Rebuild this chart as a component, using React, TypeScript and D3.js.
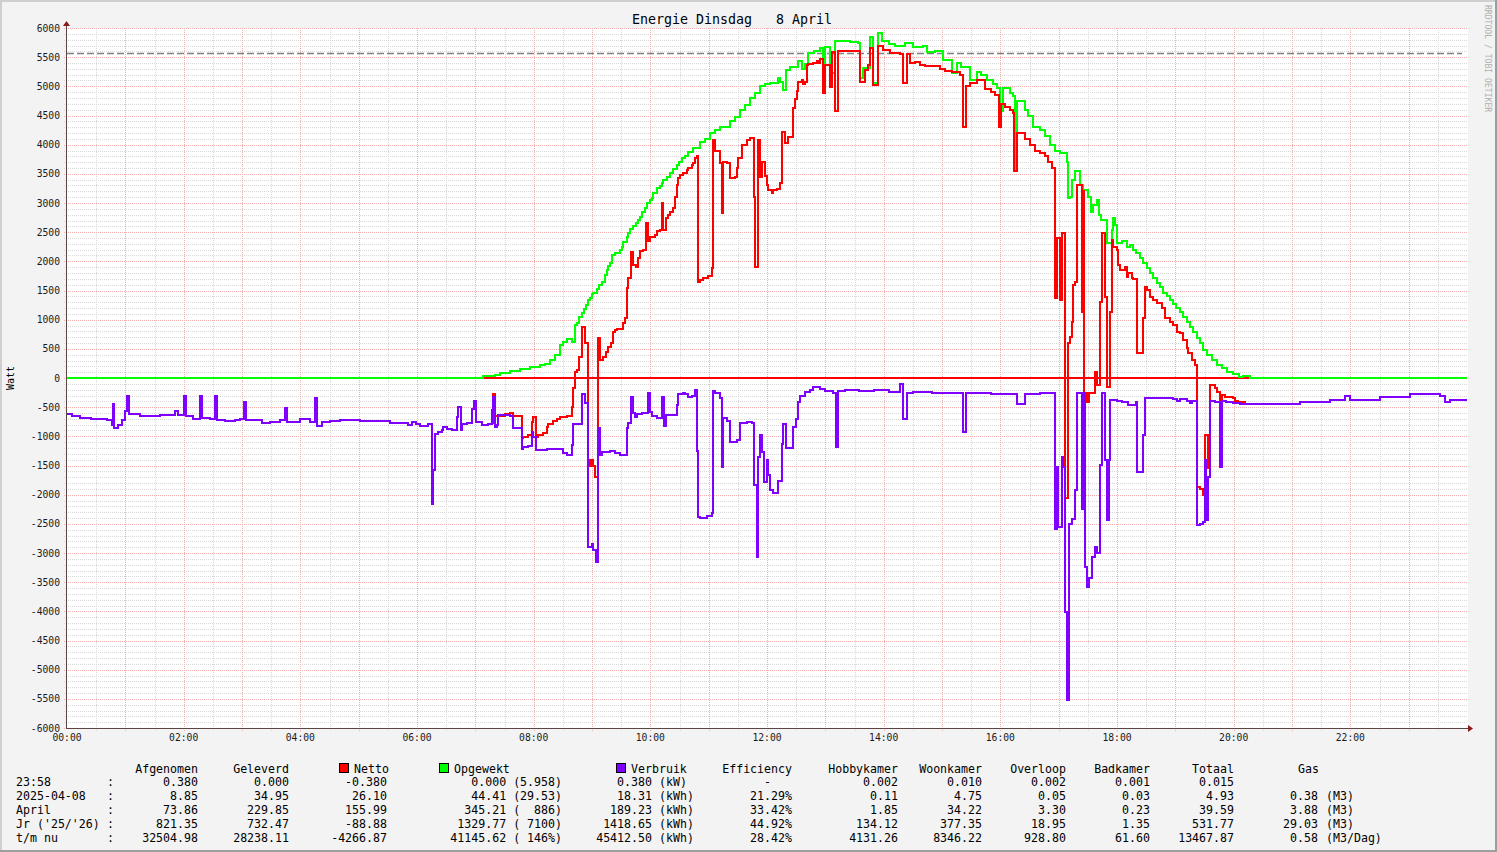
import React from 'react';
import * as d3 from 'd3';

// ---------- DATA (time in minutes since 00:00, value in Watt) ----------
const opgewekt: [number, number][] = [
  [0, 0], [428, 30], [440, 50], [445, 80], [456, 120], [466, 160], [476, 190], [487, 220], [492, 240],
  [497, 310], [502, 390], [507, 560], [510, 623], [514, 663], [519, 623], [523, 909], [525, 937],
  [527, 1051], [530, 1109], [532, 1177], [534, 1251], [536, 1337], [538, 1366], [540, 1440], [541, 1450],
  [545, 1520], [547, 1594], [550, 1651], [553, 1766], [555, 1851], [556, 1920], [559, 1966], [561, 2109],
  [564, 2137], [569, 2194], [571, 2251], [572, 2337], [576, 2411], [577, 2480], [579, 2549], [582, 2606],
  [585, 2663], [587, 2709], [589, 2766], [591, 2851], [595, 2909], [597, 2994], [600, 3051], [602, 3094],
  [603, 3166], [607, 3251], [610, 3294], [612, 3337], [613, 3394], [617, 3451], [620, 3520], [623, 3577],
  [627, 3651], [629, 3709], [633, 3766], [636, 3806], [639, 3880], [644, 3940], [651, 4050], [656, 4100],
  [661, 4200], [667, 4250], [672, 4300], [682, 4400], [687, 4480], [692, 4600], [697, 4680], [703, 4800],
  [708, 4880], [713, 5000], [718, 5040], [723, 5050], [731, 5150], [733, 5080], [736, 4940], [740, 5280],
  [744, 5340], [749, 5340], [752, 5440], [756, 5300], [759, 5380], [762, 5570], [768, 5600], [775, 5660],
  [778, 5230], [780, 5680], [785, 5230], [790, 5770], [805, 5760], [814, 5750], [816, 5140], [819, 5310],
  [826, 5850], [829, 5060], [834, 5920], [838, 5780], [845, 5720], [852, 5690], [857, 5700], [862, 5750],
  [870, 5680], [880, 5690], [885, 5590], [893, 5600], [901, 5450], [910, 5230], [915, 5400], [920, 5330],
  [929, 5110], [936, 5250], [940, 5200], [946, 5110], [952, 5040], [957, 4970], [960, 4570], [963, 4970],
  [970, 4880], [973, 4830], [975, 3580], [977, 4740], [985, 4600], [988, 4490], [994, 4300], [1001, 4250],
  [1006, 4150], [1011, 4000], [1016, 3900], [1021, 3860], [1029, 3710], [1030, 3080], [1032, 3110],
  [1034, 3400], [1037, 3540], [1042, 3310], [1045, 3220], [1050, 3110], [1053, 2850], [1055, 2970],
  [1059, 3050], [1061, 2790], [1064, 2710], [1070, 2310], [1075, 2540], [1076, 2740], [1078, 2620],
  [1080, 2310], [1085, 2350], [1090, 2250], [1093, 2280], [1096, 2190], [1100, 2140], [1104, 2060],
  [1107, 1970], [1111, 1880], [1114, 1800], [1117, 1710], [1121, 1630], [1124, 1565], [1127, 1460],
  [1131, 1400], [1135, 1340], [1138, 1270], [1141, 1195], [1145, 1140], [1148, 1050], [1152, 965],
  [1155, 880], [1158, 795], [1162, 685], [1165, 595], [1168, 480], [1173, 395], [1178, 310], [1183, 220],
  [1188, 165], [1193, 110], [1199, 70], [1205, 25], [1210, 35], [1217, 0], [1440, 0],
];

const netto: [number, number][] = [
  [427, -805], [433, -790], [437, -777], [438, -280], [440, -650], [450, -620], [456, -606], [459, -650],
  [466, -660], [468, -1034], [469, -1006], [474, -977], [478, -749], [479, -663], [482, -1006], [484, -977],
  [490, -937], [494, -846], [495, -789], [500, -731], [504, -703], [507, -663], [514, -646], [519, -491],
  [520, -177], [523, 110], [525, 137], [527, 366], [530, 880], [533, 594], [536, -1406], [538, -1509],
  [540, -1406], [541, -1509], [543, -1691], [546, 680], [548, 309], [551, 366], [554, 451], [556, 537],
  [560, 606], [562, 795], [564, 823], [566, 834], [572, 937], [574, 1023], [576, 1537], [577, 1709],
  [580, 2166], [582, 1937], [585, 1909], [587, 2051], [589, 2180], [592, 2194], [596, 2651], [598, 2343],
  [600, 2412], [605, 2451], [607, 2514], [610, 2543], [612, 2994], [613, 2543], [616, 2737], [618, 2794],
  [620, 2851], [623, 2909], [625, 3109], [627, 3309], [628, 3423], [631, 3480], [634, 3520], [638, 3560],
  [639, 3595], [643, 3651], [644, 3680], [646, 3766], [648, 3800], [649, 1651], [651, 1680], [654, 1720],
  [656, 1709], [659, 1749], [663, 1880], [664, 4080], [667, 3900], [672, 3680], [674, 2823], [675, 3710],
  [679, 3680], [682, 3423], [687, 3440], [689, 3595], [690, 3766], [694, 4000], [699, 4080], [703, 4120],
  [707, 3109], [708, 1909], [711, 4080], [713, 3451], [715, 3710], [718, 3466], [720, 3309], [721, 3223],
  [725, 3177], [726, 3223], [730, 3235], [733, 3337], [735, 4222], [739, 4023], [742, 4137], [747, 4623],
  [749, 4777], [751, 4926], [752, 5080], [756, 5100], [757, 5040], [759, 5080], [761, 5366], [762, 5383],
  [767, 5394], [771, 5440], [772, 5394], [775, 5463], [778, 4880], [780, 5366], [785, 4994], [787, 5590],
  [790, 4580], [793, 5611], [814, 5600], [816, 5080], [821, 5280], [824, 5366], [826, 5650], [829, 5030],
  [834, 5700], [839, 5620], [847, 5580], [857, 5550], [860, 5060], [864, 5550], [867, 5400], [872, 5420],
  [877, 5370], [883, 5350], [898, 5300], [903, 5270], [910, 5250], [918, 5200], [922, 4300], [925, 5000],
  [929, 5050], [936, 5100], [944, 4950], [950, 4900], [955, 4850], [959, 4300], [961, 4700], [965, 4650],
  [970, 4600], [973, 4550], [974, 3550], [977, 4200], [985, 4100], [991, 4000], [996, 3900], [1001, 3850],
  [1006, 3800], [1009, 3700], [1013, 3600], [1016, 1366], [1018, 2394], [1021, 1337], [1023, 2480],
  [1026, -234], [1027, -2063], [1030, 594], [1032, 709], [1034, 966], [1035, 1594], [1037, 1651],
  [1039, 3300], [1044, 1137], [1045, 3200], [1046, -263], [1049, -406], [1051, -263], [1057, 109],
  [1059, -120], [1062, 1309], [1065, 2480], [1068, 1394], [1070, -149], [1073, 1137], [1075, 2366],
  [1076, 2251], [1080, 2194], [1081, 1937], [1083, 1851], [1088, 1900], [1090, 1737], [1091, 1794],
  [1095, 1709], [1096, 1700], [1101, 423], [1107, 1023], [1109, 1554], [1111, 1509], [1114, 1394],
  [1117, 1337], [1121, 1280], [1126, 1194], [1129, 1023], [1135, 966], [1138, 909], [1142, 794],
  [1145, 766], [1148, 651], [1152, 509], [1153, 423], [1157, 309], [1160, 223], [1162, -1863],
  [1165, -1909], [1168, -2006], [1170, -977], [1174, -1549], [1176, -120], [1181, -170], [1183, -234],
  [1186, -1291], [1188, -291], [1191, -320], [1199, -349], [1201, -400], [1204, -420], [1212, -450],
];

const verbruik: [number, number][] = [
  [0, -620], [5, -660], [13, -690], [25, -700], [41, -720], [46, -800], [47, -450], [48, -850], [52, -800],
  [57, -720], [60, -560], [62, -300], [64, -620], [75, -650], [85, -660], [96, -640], [106, -640],
  [111, -560], [114, -640], [120, -300], [122, -650], [130, -700], [137, -300], [139, -680], [147, -700],
  [152, -300], [154, -720], [163, -740], [173, -720], [178, -700], [182, -420], [184, -720], [193, -720],
  [201, -780], [209, -760], [219, -720], [224, -520], [226, -760], [240, -700], [250, -760], [255, -350],
  [257, -820], [262, -760], [271, -740], [281, -720], [301, -730], [317, -730], [332, -780], [351, -805],
  [355, -760], [359, -790], [363, -820], [371, -795], [375, -2165], [376, -1577], [379, -960], [382, -920],
  [386, -900], [387, -845], [391, -870], [396, -890], [401, -670], [402, -500], [405, -890], [406, -790],
  [411, -765], [417, -540], [419, -400], [421, -750], [427, -805], [433, -790], [437, -550], [438, -330],
  [440, -840], [442, -805], [443, -635], [456, -660], [459, -850], [468, -1220], [469, -1190], [474, -1170],
  [478, -920], [479, -1005], [482, -1235], [494, -1225], [510, -1290], [514, -1320], [519, -1150],
  [520, -790], [530, -275], [533, -435], [536, -2890], [540, -2850], [541, -2950], [544, -3150],
  [546, -850], [548, -1320], [550, -1263], [559, -1250], [564, -1290], [569, -1320], [576, -860],
  [577, -777], [580, -330], [582, -606], [584, -663], [586, -623], [591, -606], [598, -250], [600, -577],
  [602, -646], [607, -680], [612, -320], [614, -823], [616, -634], [627, -463], [628, -274], [634, -250],
  [636, -275], [639, -330], [643, -300], [646, -206], [648, -1250], [649, -2378], [651, -2395],
  [658, -2370], [663, -2320], [664, -217], [667, -260], [672, -350], [674, -1530], [675, -680],
  [679, -737], [682, -1103], [689, -1063], [692, -777], [699, -750], [705, -777], [707, -1834],
  [710, -3063], [711, -1354], [713, -977], [715, -1263], [717, -1790], [720, -1406], [721, -1663],
  [723, -1920], [726, -1977], [731, -1766], [735, -1137], [736, -794], [740, -1206], [747, -846],
  [750, -709], [752, -406], [754, -309], [759, -234], [764, -206], [767, -160], [775, -190], [780, -220],
  [788, -250], [791, -1180], [793, -220], [800, -200], [815, -230], [830, -200], [845, -240], [857, -100],
  [860, -700], [864, -260], [870, -240], [890, -260], [910, -250], [922, -930], [925, -260], [950, -270],
  [977, -450], [985, -280], [1001, -263], [1016, -2594], [1018, -1520], [1019, -2550], [1023, -1360],
  [1024, -1520], [1026, -4006], [1029, -5520], [1031, -2497], [1034, -2423], [1037, -1920], [1039, -252],
  [1044, -2245], [1045, -263], [1047, -3234], [1049, -3577], [1051, -3430], [1054, -3063], [1057, -2891],
  [1059, -3000], [1062, -1491], [1065, -260], [1068, -1406], [1070, -2434], [1072, -1406], [1073, -380],
  [1080, -400], [1085, -420], [1091, -460], [1100, -420], [1101, -1606], [1104, -1606], [1107, -977],
  [1109, -349], [1121, -337], [1127, -349], [1138, -360], [1142, -389], [1145, -360], [1152, -400],
  [1155, -428], [1157, -400], [1162, -2520], [1165, -2500], [1168, -2470], [1170, -1406], [1172, -2430],
  [1174, -1700], [1176, -400], [1181, -410], [1186, -1520], [1188, -400], [1192, -420], [1199, -430],
  [1207, -440], [1217, -450], [1227, -450], [1268, -420], [1299, -380], [1315, -300], [1320, -380],
  [1351, -330], [1381, -280], [1412, -300], [1417, -420], [1423, -380], [1440, -380],
];

const peakLine = 5575;
const timeTickLabels = ['00:00', '02:00', '04:00', '06:00', '08:00', '10:00', '12:00', '14:00', '16:00', '18:00', '20:00', '22:00'];
const yTickValues = [6000, 5500, 5000, 4500, 4000, 3500, 3000, 2500, 2000, 1500, 1000, 500, 0, -500, -1000, -1500, -2000, -2500, -3000, -3500, -4000, -4500, -5000, -5500, -6000];

const rowLabels = ['23:58', '2025-04-08', 'April', "Jr ('25/'26)", 't/m nu'];
const afgenomen = ['0.380', '8.85', '73.86', '821.35', '32504.98'];
const geleverd = ['0.000', '34.95', '229.85', '732.47', '28238.11'];
const nettoVals = ['-0.380', '26.10', '155.99', '-88.88', '-4266.87'];
const opgewektVals = ['0.000 (5.958)', '44.41 (29.53)', '345.21 (  886)', '1329.77 ( 7100)', '41145.62 ( 146%)'];
const verbruikVals = ['0.380', '18.31', '189.23', '1418.65', '45412.50'];
const verbruikUnits = ['(kW)', '(kWh)', '(kWh)', '(kWh)', '(kWh)'];
const efficiency = ['-   ', '21.29%', '33.42%', '44.92%', '28.42%'];
const hobbykamer = ['0.002', '0.11', '1.85', '134.12', '4131.26'];
const woonkamer = ['0.010', '4.75', '34.22', '377.35', '8346.22'];
const overloop = ['0.002', '0.05', '3.30', '18.95', '928.80'];
const badkamer = ['0.001', '0.03', '0.23', '1.35', '61.60'];
const totaal = ['0.015', '4.93', '39.59', '531.77', '13467.87'];
const gasVals = ['', '0.38', '3.88', '29.03', '0.58'];
const gasUnits = ['', '(M3)', '(M3)', '(M3)', '(M3/Dag)'];

const C_NETTO = '#ff0000';
const C_OPGEWEKT = '#00ff00';
const C_VERBRUIK = '#8000ff';

const MONO = "'DejaVu Sans Mono', 'Liberation Mono', monospace";
const nb = (s: string) => s.replace(/ /g, '\u00A0');

export default function App() {
  const W = 1497, H = 852;
  const X0 = 67, X1 = 1467, Y0 = 28, Y1 = 728;
  const x = d3.scaleLinear().domain([0, 1440]).range([X0, X1]);
  const y = d3.scaleLinear().domain([-6000, 6000]).range([Y1, Y0]);
  const line = d3.line<[number, number]>().x(d => x(d[0])).y(d => Math.round(y(d[1]))).curve(d3.curveStepAfter);

  const minorV = d3.range(30, 1440, 60);
  const majorV = d3.range(60, 1440, 60);
  const hVals = d3.range(-6000, 6001, 100);

  const legendY0 = 772.5;
  const rowY = (i: number) => 786 + i * 13.9;
  const fs = 11.6;

  const cols: { vals: string[]; end: number }[] = [
    { vals: afgenomen, end: 198 },
    { vals: geleverd, end: 289 },
    { vals: nettoVals, end: 387 },
    { vals: opgewektVals, end: 562 },
    { vals: verbruikVals, end: 652 },
    { vals: efficiency, end: 792 },
    { vals: hobbykamer, end: 898 },
    { vals: woonkamer, end: 982 },
    { vals: overloop, end: 1066 },
    { vals: badkamer, end: 1150 },
    { vals: totaal, end: 1234 },
    { vals: gasVals, end: 1318 },
  ];

  return (
    <svg width={W} height={H} style={{ position: 'absolute', left: 0, top: 0, display: 'block' }}
      fontFamily={MONO}>
      <rect x={0} y={0} width={W} height={H} fill="#f3f3f3" />
      {/* frame */}
      <rect x={0} y={0} width={W} height={2} fill="#cfcfcf" />
      <rect x={0} y={0} width={2} height={H} fill="#cfcfcf" />
      <rect x={0} y={H - 2} width={W} height={2} fill="#9e9e9e" />
      <rect x={W - 2} y={0} width={2} height={H} fill="#9e9e9e" />

      {/* canvas */}
      <rect x={X0} y={Y0} width={X1 - X0 + 1} height={Y1 - Y0} fill="#ffffff" />

      {/* grid */}
      <g shapeRendering="crispEdges" strokeWidth={1}>
        {hVals.filter(v => v % 500 !== 0).map(v => (
          <line key={'hm' + v} x1={X0 - 3} x2={X1} y1={Math.round(y(v)) + 0.5} y2={Math.round(y(v)) + 0.5}
            stroke="#d8d8d8" strokeDasharray="1,1" />
        ))}
        {minorV.map(m => (
          <line key={'vm' + m} x1={Math.round(x(m)) + 0.5} x2={Math.round(x(m)) + 0.5} y1={Y0} y2={Y1 + 3}
            stroke="#d8d8d8" strokeDasharray="1,1" />
        ))}
        {hVals.filter(v => v % 500 === 0).map(v => (
          <line key={'hM' + v} x1={X0 - 3} x2={X1} y1={Math.round(y(v)) + 0.5} y2={Math.round(y(v)) + 0.5}
            stroke="#f4aeae" strokeDasharray="1,1" />
        ))}
        {majorV.map(m => (
          <line key={'vM' + m} x1={Math.round(x(m)) + 0.5} x2={Math.round(x(m)) + 0.5} y1={Y0} y2={Y1 + 3}
            stroke="#f4aeae" strokeDasharray="1,1" />
        ))}
      </g>

      {/* y tick labels */}
      {yTickValues.map(v => (
        <text key={'yt' + v} x={60} y={y(v) + 3.5} textAnchor="end" fontSize={9.7} fill="#1a1a1a">{v}</text>
      ))}
      {/* x tick labels */}
      {timeTickLabels.map((t, i) => (
        <text key={'xt' + t} x={x(i * 120)} y={741} textAnchor="middle" fontSize={9.7} fill="#1a1a1a">{t}</text>
      ))}

      {/* hrule at 0 and peak line */}
      <line x1={X0} x2={X1} y1={y(0)} y2={y(0)} stroke={C_NETTO} strokeWidth={2} shapeRendering="crispEdges" />
      <line x1={X0} x2={X1 - 5} y1={Math.round(y(peakLine)) + 0.5} y2={Math.round(y(peakLine)) + 0.5}
        stroke="#808080" strokeWidth={1.3} strokeDasharray="7,3" />

      {/* series */}
      <g fill="none" strokeWidth={2} shapeRendering="crispEdges" strokeLinejoin="miter">
        <path d={line(opgewekt) || ''} stroke={C_OPGEWEKT} />
        <path d={line(netto) || ''} stroke={C_NETTO} />
        <path d={line(verbruik) || ''} stroke={C_VERBRUIK} />
      </g>

      {/* axes */}
      <line x1={X0 - 0.5} x2={X0 - 0.5} y1={Y0 - 2} y2={Y1 + 1} stroke="#5a4444" strokeWidth={1} />
      <line x1={X0} x2={X1 + 1} y1={Y1 + 0.5} y2={Y1 + 0.5} stroke="#5a4444" strokeWidth={1} />
      <path d={`M${X0 - 4},${Y0 - 2} L${X0 + 3},${Y0 - 2} L${X0 - 0.5},${Y0 - 7} Z`} fill="#8b1a1a" />
      <path d={`M${X1 + 1},${Y1 - 3} L${X1 + 1},${Y1 + 4} L${X1 + 6},${Y1 + 0.5} Z`} fill="#8b1a1a" />

      {/* title */}
      <text x={732} y={24} textAnchor="middle" fontSize={13.3} fill="#000">{nb('Energie Dinsdag   8 April')}</text>
      {/* y label */}
      <text transform={`translate(14,378) rotate(-90)`} textAnchor="middle" fontSize={10} fill="#000">Watt</text>
      {/* watermark */}
      <text transform={`translate(1485,5) rotate(90)`} fontSize={8.1} fill="#b0b0b0">{nb('RRDTOOL / TOBI OETIKER')}</text>

      {/* legend headers */}
      <g fontSize={fs} fill="#000">
        <text x={198} y={legendY0} textAnchor="end">Afgenomen</text>
        <text x={289} y={legendY0} textAnchor="end">Geleverd</text>
        <rect x={339.5} y={763.5} width={9} height={9} fill={C_NETTO} stroke="#000" strokeWidth={1} />
        <text x={354} y={legendY0}>Netto</text>
        <rect x={439.5} y={763.5} width={9} height={9} fill={C_OPGEWEKT} stroke="#000" strokeWidth={1} />
        <text x={454} y={legendY0}>Opgewekt</text>
        <rect x={616.5} y={763.5} width={9} height={9} fill={C_VERBRUIK} stroke="#000" strokeWidth={1} />
        <text x={631} y={legendY0}>Verbruik</text>
        <text x={792} y={legendY0} textAnchor="end">Efficiency</text>
        <text x={898} y={legendY0} textAnchor="end">Hobbykamer</text>
        <text x={982} y={legendY0} textAnchor="end">Woonkamer</text>
        <text x={1066} y={legendY0} textAnchor="end">Overloop</text>
        <text x={1150} y={legendY0} textAnchor="end">Badkamer</text>
        <text x={1234} y={legendY0} textAnchor="end">Totaal</text>
        <text x={1319} y={legendY0} textAnchor="end">Gas</text>

        {rowLabels.map((lab, i) => (
          <g key={'row' + i}>
            <text x={16} y={rowY(i)}>{nb(lab)}</text>
            <text x={107} y={rowY(i)}>:</text>
            {cols.map((c, j) => (
              <text key={'c' + j} x={c.end} y={rowY(i)} textAnchor="end">{nb(c.vals[i])}</text>
            ))}
            <text x={659} y={rowY(i)}>{verbruikUnits[i]}</text>
            <text x={1326} y={rowY(i)}>{gasUnits[i]}</text>
          </g>
        ))}
      </g>
    </svg>
  );
}
